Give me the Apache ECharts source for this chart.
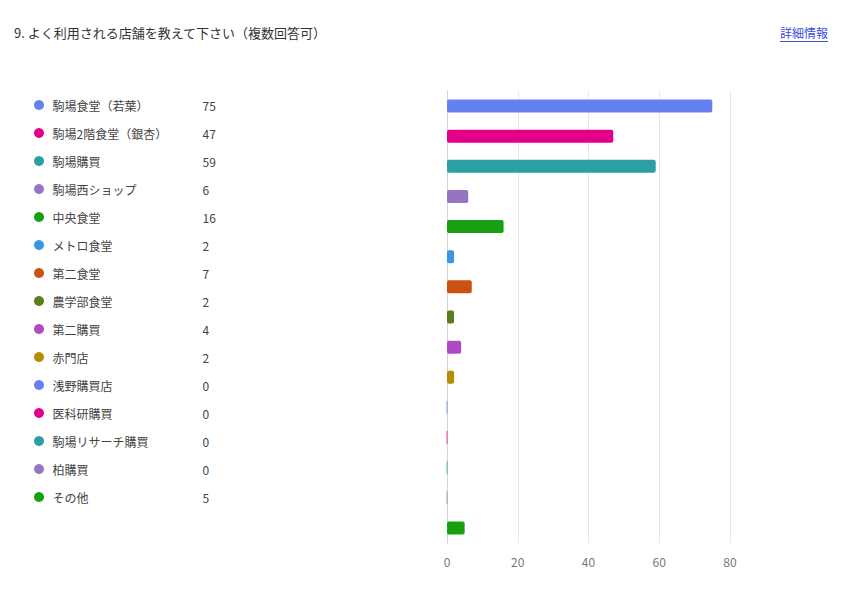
<!DOCTYPE html>
<html>
<head>
<meta charset="utf-8">
<title>店舗</title>
<script src="https://cdn.jsdelivr.net/npm/echarts@6/dist/echarts.min.js"></script>
<style>
  html, body { margin: 0; padding: 0; background: #fff; }
  #main { width: 852px; height: 592px; }
</style>
</head>
<body>
<div id="main"></div>
<script>
// 店舗名と回答数
var categories = ['駒場食堂（若葉）', '駒場2階食堂（銀杏）', '駒場購買', '駒場西ショップ', '中央食堂',
    'メトロ食堂', '第二食堂', '農学部食堂', '第二購買', '赤門店',
    '浅野購買店', '医科研購買', '駒場リサーチ購買', '柏購買', 'その他'];
var counts = [75, 47, 59, 6, 16, 2, 7, 2, 4, 2, 0, 0, 0, 0, 5];
var xTicks = [0, 20, 40, 60, 80];
var palette = ['#6481ef', '#e2008a', '#2b9fa3', '#9575c2', '#16a011',
    '#3a96e0', '#cb5111', '#5a7d1d', '#b04ac4', '#b38f00'];

(function () {
    var myChart = echarts.init(document.getElementById('main'), null, { renderer: 'svg' });
    var font = '"Noto Sans CJK JP", "Noto Sans", sans-serif';

    // 1項目ずつ系列にして、凡例に件数を並べる
    var series = categories.map(function (name, i) {
        var color = palette[i % palette.length];
        return {
            name: name,
            type: 'bar',
            stack: 'all',
            barWidth: 13,
            silent: true,
            data: categories.map(function (c, j) {
                if (j !== i) return '-';
                if (counts[i] === 0) {
                    // 0件は薄い線だけ
                    return { value: 0, itemStyle: { borderWidth: 1, borderColor: color, opacity: 0.4 } };
                }
                return counts[i];
            }),
            itemStyle: {
                color: color,
                borderRadius: 2
            }
        };
    });

    var option = {
        textStyle: { fontFamily: font },
        title: {
            text: '9. よく利用される店舗を教えて下さい（複数回答可）',
            left: 9,
            top: 21,
            textStyle: { fontSize: 13, fontWeight: 'normal', color: '#333', fontFamily: font }
        },
        graphic: [{
            type: 'group',
            right: 24,
            top: 26,
            children: [
                { type: 'text', x: 0, y: 0, style: { text: '詳細情報', fill: '#3d4ed8', fontSize: 12, fontFamily: font } },
                { type: 'rect', shape: { x: 0, y: 15, width: 48, height: 1 }, style: { fill: '#3d4ed8' } }
            ]
        }],
        legend: {
            orient: 'vertical',
            left: 29,
            top: 94,
            icon: 'circle',
            itemWidth: 17,
            itemHeight: 10,
            itemGap: 16,
            selectedMode: false,
            data: categories,
            formatter: function (name) {
                return '{n|' + name + '}{v|' + counts[categories.indexOf(name)] + '}';
            },
            textStyle: {
                fontFamily: font,
                rich: {
                    n: { width: 150, fontSize: 12, color: '#444', lineHeight: 14, fontFamily: font },
                    v: { fontSize: 12, color: '#444', lineHeight: 14, fontFamily: font }
                }
            }
        },
        grid: {
            left: 447,
            right: 122,
            top: 91,
            bottom: 49
        },
        xAxis: {
            type: 'value',
            min: xTicks[0],
            max: xTicks[xTicks.length - 1],
            interval: xTicks[1] - xTicks[0],
            axisLine: { show: false },
            axisTick: { show: false },
            axisLabel: { color: '#777', fontSize: 12, margin: 12, fontFamily: font },
            splitLine: { lineStyle: { color: '#e8e8e8' } }
        },
        yAxis: {
            type: 'category',
            inverse: true,
            data: categories,
            axisLine: { show: true, lineStyle: { color: '#d4d4d4' } },
            axisTick: { show: false },
            axisLabel: { show: false }
        },
        series: series
    };

    myChart.setOption(option);
})();
</script>
</body>
</html>
